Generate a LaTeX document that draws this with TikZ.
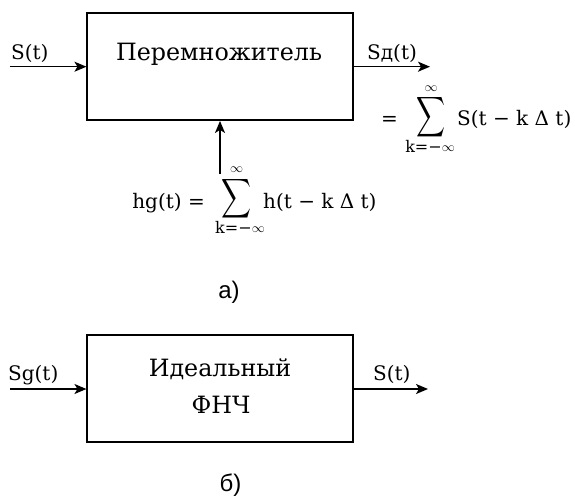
\documentclass[tikz,border=0pt]{standalone}
\usepackage{fontspec}
\usepackage{graphicx}
\setmainfont{DejaVu Serif}
\newfontfamily\capfont{Liberation Sans}
\usetikzlibrary{arrows.meta}
\newcommand{\bigsumsign}[2]{\resizebox*{#1}{#2}{$\displaystyle\sum$}}
\newcommand{\infsign}{\resizebox{13pt}{!}{$\infty$}}
\begin{document}
\begin{tikzpicture}[x=1pt,y=-1pt,
  blk/.style={draw,line width=1.5pt,minimum width=266pt,minimum height=107pt,inner sep=0pt},
  blktxt/.style={inner sep=0pt,font=\fontsize{23.8}{37}\selectfont,align=center},
  arr/.style={line width=1.5pt,-{Stealth[length=12pt,width=10pt,inset=3pt]}},
  lbl/.style={font=\fontsize{20}{24}\selectfont,inner sep=0pt},
  captxt/.style={font=\capfont\fontsize{24}{28}\selectfont,inner sep=0pt},
  frm/.style={font=\fontsize{20}{24}\selectfont,inner sep=0pt},
  lim/.style={font=\fontsize{16}{18}\selectfont,inner sep=0pt},
  sumsign/.style={inner sep=0pt}]
\useasboundingbox (0,0) rectangle (575,497);
% top block
\node[blk] (mul) at (220.2,66.7) {};
\node[blktxt,anchor=base] (mulT) at (219,60.5) {Перемножитель};
\coordinate (inA) at (10,66.7);
\coordinate (outA) at (430,66.7);
\draw[arr] (inA) -- (inA -| mul.west);
\draw[arr] (outA -| mul.east) -- (outA);
\node[lbl,anchor=base west] (sA) at (11,60) {S(t)};
\node[lbl,anchor=base west] (sdA) at (367,60) {Sд(t)};
% feedback formula
\node[frm,anchor=base east] (hg) at (205,208) {hg(t) =};
\node[sumsign] (sum1) at (236.7,198.5) {\bigsumsign{30pt}{44pt}};
\node[lim,anchor=south] (sup1) at (236.7,172.5) {\infsign};
\node[lim,anchor=base] (sub1) at (240,233) {k=−\raisebox{1pt}{\infsign}};
\node[frm,anchor=base west] (h1) at (263,208) {h(t − k Δ t)};
\coordinate (vtop) at (220,174);
\draw[arr] (vtop) -- (vtop |- mul.south);
% right formula
\node[frm,anchor=base east] (eq2) at (398,126) {=};
\node[sumsign] (sum2) at (431,117.5) {\bigsumsign{29pt}{45pt}};
\node[lim,anchor=south] (sup2) at (431,91.5) {\infsign};
\node[lim,anchor=base] (sub2) at (430,153) {k=−\raisebox{1pt}{\infsign}};
\node[frm,anchor=base west] (s2) at (457,126) {S(t − k Δ t)};
\node[captxt] (ca) at (229,292) {а)};
% bottom block
\node[blk] (lpf) at (220.2,388.5) {};
\node[blktxt,anchor=base] (lpfT1) at (220,376) {Идеальный};
\node[blktxt,anchor=base] (lpfT2) at (221,413) {ФНЧ};
\coordinate (inB) at (10,389);
\coordinate (outB) at (428,389);
\draw[arr] (inB) -- (inB -| lpf.west);
\draw[arr] (outB -| lpf.east) -- (outB);
\node[lbl,anchor=base west] (sgB) at (8,380) {Sg(t)};
\node[lbl,anchor=base west] (sB) at (373,380) {S(t)};
\node[captxt] (cb) at (230.5,485) {б)};
\end{tikzpicture}
\end{document}
